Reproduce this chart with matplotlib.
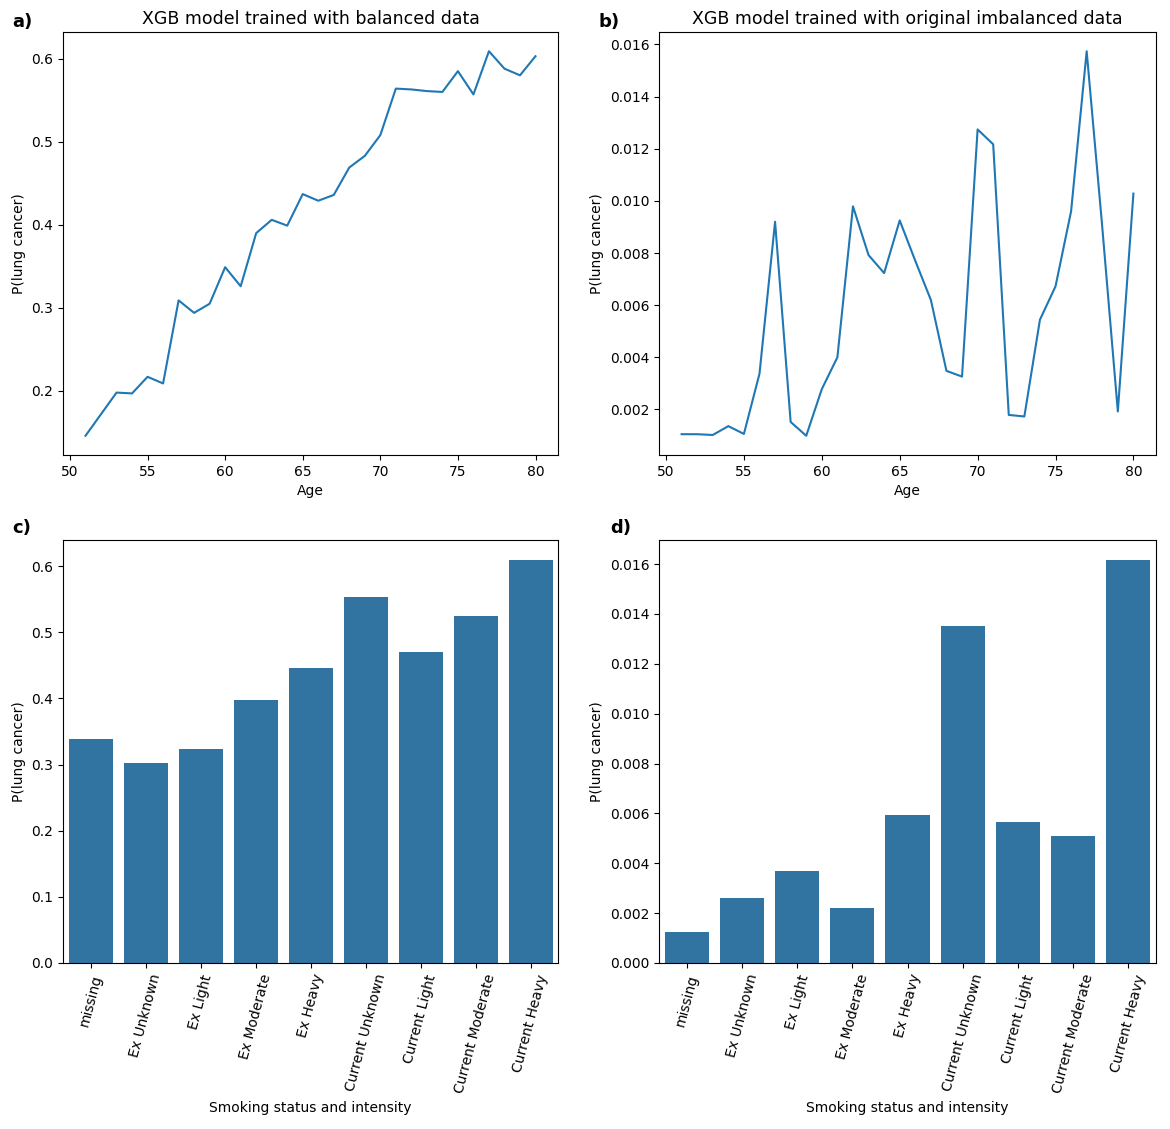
import matplotlib.pyplot as plt

ages = list(range(51, 81))
p_balanced = [0.146, 0.172, 0.198, 0.197, 0.217, 0.209, 0.309, 0.294, 0.305, 0.349,
              0.326, 0.390, 0.406, 0.399, 0.437, 0.429, 0.436, 0.469, 0.483, 0.508,
              0.564, 0.563, 0.561, 0.560, 0.585, 0.557, 0.609, 0.588, 0.580, 0.603]
p_imbalanced = [0.00105, 0.00105, 0.00102, 0.00136, 0.00106, 0.00337, 0.0092, 0.00152, 0.00099, 0.00278,
                0.0040, 0.00979, 0.00792, 0.00723, 0.00925, 0.0077, 0.0062, 0.00348, 0.00326, 0.01274,
                0.01217, 0.00179, 0.00173, 0.00544, 0.00672, 0.0096, 0.01574, 0.0090, 0.00192, 0.01028]

smoking = ['missing', 'Ex Unknown', 'Ex Light', 'Ex Moderate', 'Ex Heavy',
           'Current Unknown', 'Current Light', 'Current Moderate', 'Current Heavy']
bar_balanced = [0.338, 0.303, 0.323, 0.397, 0.446, 0.554, 0.470, 0.525, 0.609]
bar_imbalanced = [0.00124, 0.0026, 0.00369, 0.0022, 0.00593, 0.01351, 0.00565, 0.00509, 0.01616]

line_color = '#1f77b4'
bar_color = '#3274a1'

W, H = 1170, 1129
fig = plt.figure(figsize=(W / 100, H / 100), dpi=100)


def box(left, right, top, bottom):
    return [left / W, 1 - bottom / H, (right - left) / W, (bottom - top) / H]


ax_a = fig.add_axes(box(63, 558, 32, 455))
ax_b = fig.add_axes(box(659, 1156, 32, 455))
ax_c = fig.add_axes(box(63, 558, 540, 963))
ax_d = fig.add_axes(box(659, 1156, 540, 963))

ax_a.plot(ages, p_balanced, color=line_color, lw=1.5)
ax_a.set_title('XGB model trained with balanced data', fontsize=12.5)
ax_a.set_xlabel('Age')
ax_a.set_ylabel('P(lung cancer)')

ax_b.plot(ages, p_imbalanced, color=line_color, lw=1.5)
ax_b.set_title('XGB model trained with original imbalanced data', fontsize=12.5)
ax_b.set_xlabel('Age')
ax_b.set_ylabel('P(lung cancer)')

for ax, vals in [(ax_c, bar_balanced), (ax_d, bar_imbalanced)]:
    x = range(len(smoking))
    ax.bar(x, vals, width=0.8, color=bar_color)
    ax.set_xlim(-0.5, len(smoking) - 0.5)
    ax.set_ylim(0, max(vals) * 1.05)
    ax.set_xticks(list(x))
    ax.set_xticklabels(smoking, rotation=75)
    ax.set_xlabel('Smoking status and intensity')
    ax.set_ylabel('P(lung cancer)')

ax_b.set_yticks([0.002, 0.004, 0.006, 0.008, 0.010, 0.012, 0.014, 0.016])
ax_b.set_yticklabels([f'{v:.3f}' for v in ax_b.get_yticks()])
ax_d.set_yticks([0.0, 0.002, 0.004, 0.006, 0.008, 0.010, 0.012, 0.014, 0.016])
ax_d.set_yticklabels([f'{v:.3f}' for v in ax_d.get_yticks()])

for lbl, px, py in [('a)', 12, 22), ('b)', 598, 22), ('c)', 12, 528), ('d)', 610, 528)]:
    fig.text(px / W, 1 - py / H, lbl, fontsize=13, fontweight='bold', va='center', ha='left')

fig.savefig('out.png', dpi=100)
